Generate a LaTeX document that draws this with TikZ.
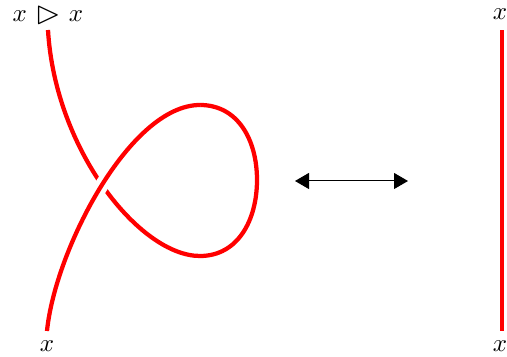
\documentclass[tikz,border=0pt]{standalone}
\usepackage{amssymb}
\usetikzlibrary{arrows.meta}
\newcommand{\bigtri}{\mathbin{\mkern2mu\vcenter{\hbox{\scalebox{1.3}{$\vartriangleright$}}}\mkern2mu}}
\begin{document}
\begin{tikzpicture}[x=0.4pt,y=-0.4pt,
  strand/.style={red, line width=1.7pt},
  halo/.style={white, line width=5.6pt},
  lbl/.style={inner sep=0pt},
  arr/.style={{Triangle[length=5.6pt,width=6.4pt]}-{Triangle[length=5.6pt,width=6.4pt]}, line width=0.4pt}]
\useasboundingbox (0,0) rectangle (507,357);
\coordinate (B) at (47,331);
\coordinate (T) at (48,30);
\coordinate (L1) at (200,105);
\coordinate (R) at (257,180);
\coordinate (L2) at (200,256);
\coordinate (RT) at (502,30);
\coordinate (RB) at (502,331);
\coordinate (A1) at (295,181);
\coordinate (A2) at (408,181);
% under strand
\draw[strand] (L1) .. controls (238,105) and (257,140) .. (R)
  .. controls (257,220) and (238,256) .. (L2)
  .. controls (140,256) and (55,150) .. (T);
% over strand
\draw[halo] (B) .. controls (55,250) and (130,105) .. (L1);
\draw[strand] (B) .. controls (55,250) and (130,105) .. (L1);
% trivial strand
\draw[strand] (RB) -- (RT);
% arrow
\draw[arr] (A1) -- (A2);
% labels
\node[lbl] (tl) at (48,15.5) {$x \bigtri x$};
\node[lbl] (bl) at (47,346) {$x$};
\node[lbl] (tr) at (500,14) {$x$};
\node[lbl] (br) at (500,346) {$x$};
\end{tikzpicture}
\end{document}
